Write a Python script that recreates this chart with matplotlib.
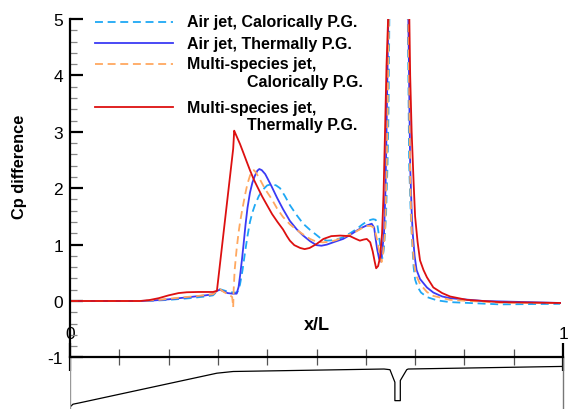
import matplotlib
matplotlib.use("Agg")
import matplotlib.pyplot as plt
from matplotlib.lines import Line2D
from matplotlib.ticker import FixedLocator

plt.rcParams['font.family'] = ['Liberation Sans', 'DejaVu Sans']

# ---------------- data ----------------
labels = ["Air jet, Calorically P.G.", "Air jet, Thermally P.G.",
          "Multi-species jet,\nCalorically P.G.", "Multi-species jet,\nThermally P.G."]

air_cpg_x = [0, 0.142, 0.17, 0.20, 0.243, 0.275, 0.290, 0.298, 0.304, 0.315, 0.331, 0.339,
             0.342, 0.345, 0.350, 0.355, 0.360, 0.365, 0.370, 0.375, 0.383, 0.392, 0.400,
             0.409, 0.418, 0.426, 0.436, 0.446, 0.460, 0.473, 0.487, 0.500, 0.510, 0.521,
             0.537, 0.554, 0.568, 0.582, 0.592, 0.602, 0.610, 0.615, 0.620, 0.623, 0.626,
             0.629, 0.632, 0.634, 0.637, 0.641, 0.644, 0.646, 0.648, 0.652, 0.680, 0.685,
             0.688, 0.691, 0.693, 0.697, 0.700, 0.705, 0.712, 0.724, 0.745, 0.771, 0.872, 0.994]
air_cpg_y = [0, 0, 0.005, 0.02, 0.05, 0.08, 0.10, 0.17, 0.21, 0.18, 0.15, 0.15,
             0.20, 0.30, 0.55, 0.86, 1.15, 1.40, 1.57, 1.70, 1.86, 1.98, 2.05,
             2.07, 2.05, 2.00, 1.86, 1.70, 1.52, 1.37, 1.26, 1.17, 1.10, 1.07,
             1.08, 1.13, 1.20, 1.28, 1.35, 1.41, 1.44, 1.45, 1.44, 1.38, 1.20,
             1.00, 0.80, 0.76, 0.95, 1.51, 2.4, 3.3, 5.2, 7, 7, 5.2,
             2.4, 1.6, 1.2, 0.6, 0.38, 0.25, 0.15, 0.07, 0.01, -0.02, -0.06, -0.05]

air_tpg_x = [0, 0.142, 0.17, 0.20, 0.243, 0.275, 0.290, 0.298, 0.304, 0.312, 0.320, 0.330,
             0.338, 0.342, 0.345, 0.349, 0.352, 0.356, 0.360, 0.365, 0.370, 0.375, 0.380,
             0.384, 0.389, 0.396, 0.402, 0.409, 0.420, 0.432, 0.446, 0.460, 0.473, 0.487,
             0.500, 0.510, 0.521, 0.537, 0.554, 0.568, 0.582, 0.592, 0.602, 0.612, 0.617,
             0.620, 0.623, 0.627, 0.630, 0.633, 0.637, 0.640, 0.642, 0.644, 0.646, 0.652,
             0.680, 0.686, 0.690, 0.693, 0.695, 0.699, 0.703, 0.710, 0.724, 0.737, 0.755,
             0.771, 0.838, 0.994]
air_tpg_y = [0, 0, 0.01, 0.03, 0.07, 0.10, 0.12, 0.18, 0.20, 0.17, 0.14, 0.13,
             0.13, 0.25, 0.45, 0.75, 1.00, 1.35, 1.65, 1.92, 2.10, 2.22, 2.31,
             2.34, 2.32, 2.25, 2.15, 2.03, 1.83, 1.63, 1.42, 1.27, 1.16, 1.06,
             0.99, 0.98, 1.00, 1.05, 1.10, 1.17, 1.25, 1.30, 1.34, 1.37, 1.30,
             1.10, 0.92, 0.75, 0.70, 0.85, 1.22, 2.0, 3.0, 4.1, 5.2, 7,
             7, 5.2, 2.4, 1.6, 1.22, 0.80, 0.55, 0.39, 0.24, 0.15, 0.08,
             0.05, 0.0, -0.035]

ms_cpg_x = [0, 0.142, 0.18, 0.223, 0.26, 0.290, 0.298, 0.304, 0.312, 0.320, 0.326, 0.329,
            0.331, 0.332, 0.334, 0.338, 0.342, 0.345, 0.349, 0.352, 0.356, 0.360, 0.365,
            0.369, 0.373, 0.377, 0.385, 0.396, 0.409, 0.420, 0.432, 0.446, 0.460, 0.473,
            0.487, 0.500, 0.513, 0.527, 0.540, 0.554, 0.568, 0.582, 0.592, 0.602, 0.610,
            0.615, 0.620, 0.625, 0.629, 0.632, 0.635, 0.639, 0.642, 0.644, 0.647, 0.652,
            0.680, 0.686, 0.690, 0.692, 0.694, 0.698, 0.702, 0.710, 0.724, 0.737, 0.771,
            0.872, 0.994]
ms_cpg_y = [0, 0, 0.02, 0.06, 0.09, 0.12, 0.18, 0.21, 0.16, 0.12, 0.09, 0.07,
            -0.11, 0.20, 0.55, 0.92, 1.22, 1.40, 1.60, 1.74, 1.92, 2.08, 2.22,
            2.30, 2.32, 2.28, 2.16, 1.98, 1.81, 1.64, 1.49, 1.36, 1.26, 1.18,
            1.10, 1.05, 1.04, 1.05, 1.08, 1.13, 1.18, 1.24, 1.29, 1.33, 1.33,
            1.31, 1.20, 1.00, 0.78, 0.69, 0.85, 1.22, 2.2, 3.2, 5.2, 7,
            7, 5.2, 2.2, 1.5, 1.1, 0.65, 0.46, 0.30, 0.16, 0.09, 0.02,
            -0.03, -0.035]

ms_tpg_x = [0, 0.142, 0.16, 0.18, 0.20, 0.22, 0.237, 0.26, 0.290, 0.298, 0.331, 0.332,
            0.333, 0.336, 0.340, 0.345, 0.352, 0.358, 0.365, 0.373, 0.382, 0.390, 0.399,
            0.410, 0.421, 0.432, 0.440, 0.446, 0.455, 0.467, 0.476, 0.486, 0.500, 0.514,
            0.530, 0.548, 0.568, 0.580, 0.588, 0.596, 0.602, 0.609, 0.614, 0.618, 0.621,
            0.625, 0.629, 0.633, 0.636, 0.639, 0.642, 0.646, 0.652, 0.680, 0.688, 0.690,
            0.693, 0.697, 0.700, 0.705, 0.710, 0.717, 0.724, 0.737, 0.755, 0.771, 0.805,
            0.872, 0.994]
ms_tpg_y = [0, 0, 0.015, 0.05, 0.10, 0.14, 0.155, 0.16, 0.16, 0.18, 2.70, 2.85,
            3.02, 2.96, 2.88, 2.78, 2.62, 2.48, 2.32, 2.15, 1.99, 1.85, 1.71,
            1.54, 1.40, 1.27, 1.15, 1.07, 0.99, 0.94, 0.92, 0.94, 1.01, 1.10,
            1.15, 1.16, 1.15, 1.10, 1.07, 1.09, 1.10, 1.04, 0.88, 0.70, 0.58,
            0.62, 0.78, 1.20, 1.90, 3.0, 4.17, 5.2, 7, 7, 5.2, 4.0,
            3.0, 2.1, 1.5, 1.05, 0.72, 0.55, 0.42, 0.24, 0.14, 0.08, 0.02,
            -0.02, -0.035]

# wall geometry sketch (below the axis)
geom_x = [0, 0.006, 0.02, 0.298, 0.331, 0.637, 0.649, 0.659, 0.659, 0.670, 0.670, 0.683, 0.686, 1.0]
geom_y = [-1.88, -1.83, -1.805, -1.28, -1.25, -1.206, -1.218, -1.44, -1.767, -1.767, -1.41, -1.218, -1.206, -1.16]

yticks = [-1, 0, 1, 2, 3, 4, 5]
xtick_labels = ["0", "1"]

colors = ["#1EA8F5", "#3A3AF5", "#FFA860", "#DD1010"]
dash = (0, (4.4, 2.6))
styles = [dash, "-", dash, "-"]

W, H = 568, 410
fig = plt.figure(figsize=(W / 100, H / 100), dpi=100)
ymin = -1.915
ax = fig.add_axes([70 / W, 0, 493 / W, (H - 20) / H])
ax.set_xlim(0, 1)
ax.set_ylim(ymin, 5)

series = [(air_cpg_x, air_cpg_y), (air_tpg_x, air_tpg_y), (ms_cpg_x, ms_cpg_y), (ms_tpg_x, ms_tpg_y)]
for (xs, ys), c, ls in zip(series, colors, styles):
    ax.plot(xs, ys, color=c, ls=ls, lw=1.3)
ax.plot(geom_x, geom_y, color="black", lw=0.9)

# spines
ax.spines['right'].set_visible(False)
ax.spines['bottom'].set_visible(False)
ax.spines['left'].set_bounds(-1, 5)
ax.spines['left'].set_linewidth(1.6)
ax.spines['top'].set_position(('data', -1))
ax.spines['top'].set_linewidth(1.6)

ax.yaxis.set_major_locator(FixedLocator(yticks))
ax.yaxis.set_minor_locator(FixedLocator([v / 5 for v in range(-5, 25) if v % 5 != 0]))
ax.set_yticklabels([str(v) for v in yticks])
ax.tick_params(axis='y', which='major', direction='in', length=9, width=1.6, labelsize=12.5, pad=5)
ax.tick_params(axis='y', which='minor', direction='in', length=5, width=0.9, color='#888888')

ax.xaxis.tick_top()
ax.xaxis.set_major_locator(FixedLocator([0, 1]))
ax.set_xticklabels(xtick_labels)
ax.xaxis.set_minor_locator(FixedLocator([i / 10 for i in range(1, 10)]))
ax.tick_params(axis='x', which='major', direction='inout', length=20, width=1.6, labelsize=12.5, pad=2)
ax.tick_params(axis='x', which='minor', direction='inout', length=11, width=0.9, color='#555555')

# grey frame lines below the axis
ax.axvline(0, ymin=0, ymax=(-1 - ymin) / (5 - ymin), color='#999999', lw=1)
ax.axvline(1, ymin=0, ymax=(-1 - ymin) / (5 - ymin), color='#777777', lw=1, clip_on=False)

ax.text(0.5, -0.42, "x/L", transform=ax.transData, ha='center', va='center',
        fontsize=13, fontweight='bold')
fig.text(20 / W, 1 - 167 / H, "Cp difference", rotation=90, ha='center', va='center',
         fontsize=11.8, fontweight='bold')

# legend
def fx(px):
    return px / W

def fy(py):
    return 1 - py / H

leg_y = [23, 44, 65, 108]
for c, ls, lab, y in zip(colors, styles, labels, leg_y):
    fig.add_artist(Line2D([fx(95), fx(173)], [fy(y), fy(y)], color=c, ls=ls, lw=1.3,
                          transform=fig.transFigure))
    parts = lab.split("\n")
    fig.text(fx(187), fy(y), parts[0], ha='left', va='center', fontsize=11.5, fontweight='bold')
    if len(parts) > 1:
        fig.text(fx(247), fy(y + 17.5), parts[1], ha='left', va='center', fontsize=11.5,
                 fontweight='bold')

fig.savefig("out.png", dpi=100)
